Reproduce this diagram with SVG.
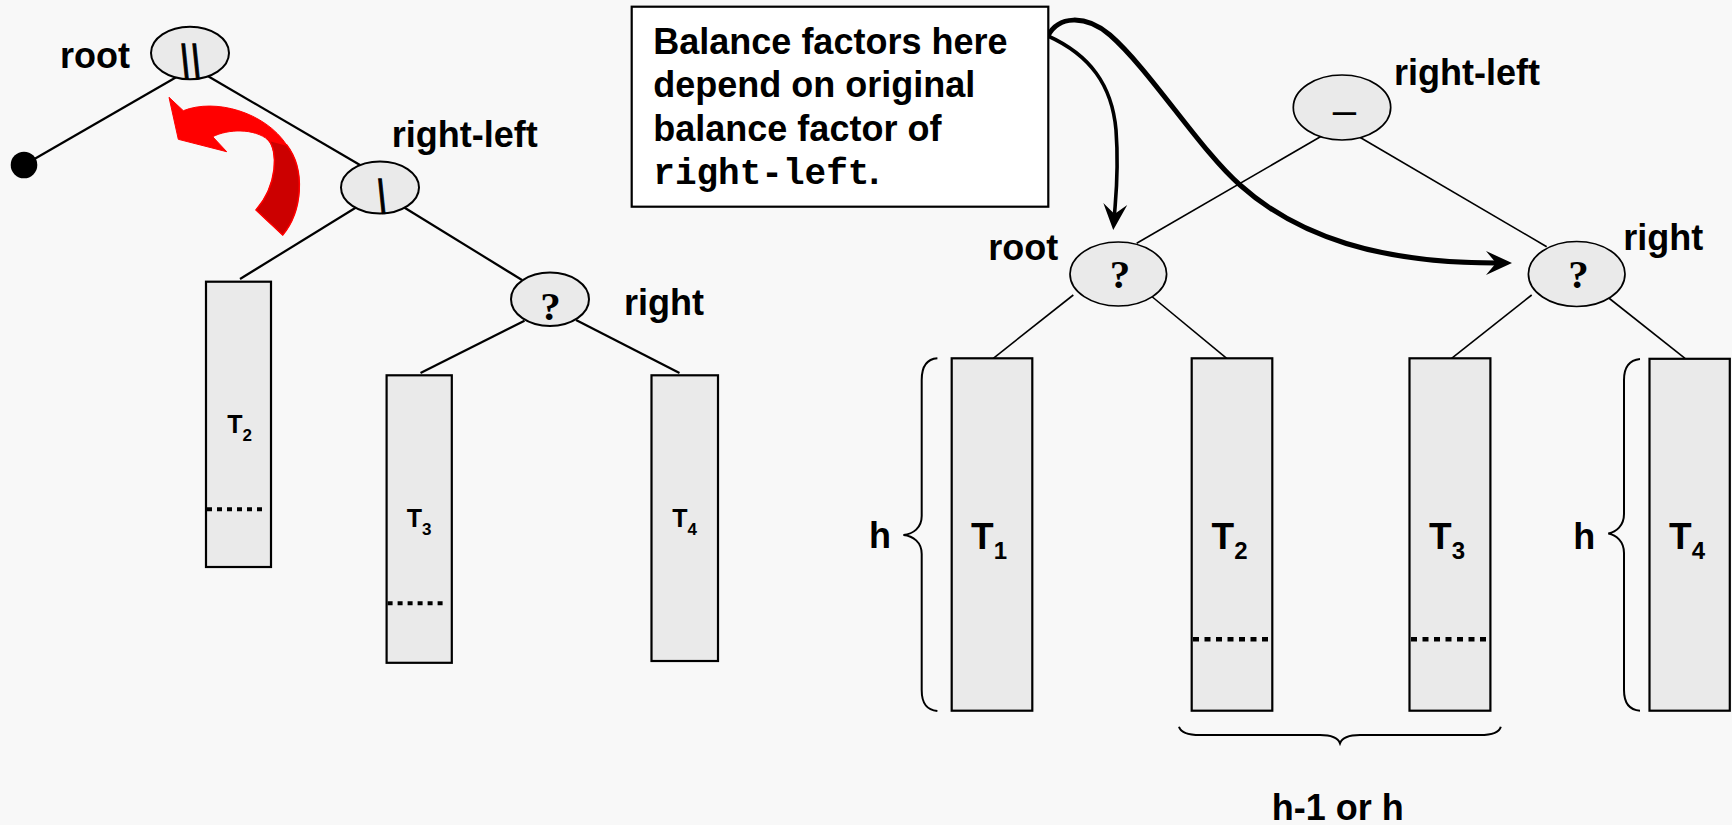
<svg xmlns="http://www.w3.org/2000/svg" width="1732" height="825" viewBox="0 0 1732 825">
<style>
.lbl{font-family:"Liberation Sans",Arial,sans-serif;font-weight:bold;font-size:36px;fill:#000}
.tl{font-family:"Liberation Sans",Arial,sans-serif;font-weight:bold;font-size:37px;fill:#000}
.ts{font-family:"Liberation Sans",Arial,sans-serif;font-weight:bold;font-size:25px;fill:#000}
.q{font-family:"Liberation Serif","Times New Roman",serif;font-weight:bold;font-size:41px;fill:#000}
.bs{font-family:"Liberation Sans",Arial,sans-serif;font-weight:bold;font-size:46px;fill:#000;stroke:#000;stroke-width:1.4;letter-spacing:7.2px}
.mono{font-family:"Liberation Mono","Courier New",monospace;font-weight:bold;font-size:36px}
.nodeL{fill:#eaeaea;stroke:#000;stroke-width:2}
.nodeR{fill:#eaeaea;stroke:#000;stroke-width:1.7}
.box{fill:#eaeaea;stroke:#000;stroke-width:2.2}
.edgeL{stroke:#000;stroke-width:2.2;fill:none}
.edgeR{stroke:#000;stroke-width:1.6;fill:none}
.dotL{stroke:#000;stroke-width:4;stroke-dasharray:5 5;fill:none}
.dotR{stroke:#000;stroke-width:4.5;stroke-dasharray:6 5.5;fill:none}
.brace{stroke:#000;stroke-width:2;fill:none}
</style>
<defs>
<marker id="headA" markerUnits="userSpaceOnUse" viewBox="0 0 26 26" refX="10" refY="13" markerWidth="26" markerHeight="26" orient="auto">
<path d="M0,1 L26,13 L0,25 L10,13 Z" fill="#000"/>
</marker>
</defs>
<rect x="0" y="0" width="1732" height="825" fill="#f8f8f8"/>

<g id="connectors">
<line class="edgeL" x1="178.3" y1="76" x2="24" y2="165"/>
<line class="edgeL" x1="206" y1="75" x2="360" y2="165"/>
<line class="edgeL" x1="361.7" y1="204" x2="240" y2="279"/>
<line class="edgeL" x1="403" y1="206.7" x2="522" y2="280"/>
<line class="edgeL" x1="524.5" y1="320.7" x2="420.5" y2="373"/>
<line class="edgeL" x1="576" y1="320" x2="679.5" y2="373"/>
<line class="edgeR" x1="1321.7" y1="136" x2="1136.7" y2="243.3"/>
<line class="edgeR" x1="1356" y1="135" x2="1546.7" y2="246.7"/>
<line class="edgeR" x1="1073.3" y1="295" x2="993.3" y2="358.3"/>
<line class="edgeR" x1="1150" y1="295" x2="1226.7" y2="358.3"/>
<line class="edgeR" x1="1531.7" y1="295" x2="1451.6" y2="358.3"/>
<line class="edgeR" x1="1605" y1="295" x2="1685" y2="358.3"/>
<path d="M1048,36 C1090,55 1112,85 1116,130 C1119,170 1116,195 1114.5,214" stroke="#000" stroke-width="3.6" fill="none" marker-end="url(#headA)"/>
<path d="M1048,36 C1058,16 1085,14 1110,35 C1150,70 1200,150 1240,185 C1298,237 1380,263 1496,263" stroke="#000" stroke-width="5" fill="none" marker-end="url(#headA)"/>
</g>

<g id="rotation-arrow">
<path d="M169,97.3 L178.3,139.3 L226.7,151.7 L212.7,136.7 C228,129 254,128 268.3,140 C278,150 278,185 256,210 L282.7,235 C302,212 306,170 286.7,145 C265,112 215,98 183.3,110.7 Z" fill="#ff0000" stroke="#ff0000" stroke-width="1"/>
<path d="M268.3,140 C278,150 278,185 256,210 L282.7,235 C302,212 306,170 286.7,145 Z" fill="#cc0000" stroke="#ff0000" stroke-width="1.5"/>
</g>

<g id="leaf-dot"><circle cx="24" cy="165" r="13.3" fill="#000"/></g>

<g id="L-root">
<ellipse class="nodeL" cx="190" cy="53" rx="39" ry="26.3"/>
<text class="bs" transform="translate(181.5,78) scale(0.55,1)">\\</text>
<text class="lbl" x="60" y="68">root</text>
</g>
<g id="L-right-left">
<ellipse class="nodeL" cx="380" cy="187.5" rx="39" ry="26"/>
<text class="bs" transform="translate(378.3,213) scale(0.55,1)">\</text>
<text class="lbl" x="391.7" y="147">right-left</text>
</g>
<g id="L-right">
<ellipse class="nodeL" cx="550" cy="299.3" rx="39" ry="26.7"/>
<text class="q" x="550.5" y="320" text-anchor="middle">?</text>
<text class="lbl" x="624" y="315">right</text>
</g>
<g id="L-T2">
<rect class="box" x="206" y="281.7" width="65" height="285.3"/>
<line class="dotL" x1="207" y1="509.3" x2="266" y2="509.3"/>
<text class="ts" x="239.5" y="433.3" text-anchor="middle">T<tspan font-size="17" dy="8">2</tspan></text>
</g>
<g id="L-T3">
<rect class="box" x="386.6" y="375.3" width="65.2" height="287.5"/>
<line class="dotL" x1="387.6" y1="603.3" x2="447" y2="603.3"/>
<text class="ts" x="419" y="526.7" text-anchor="middle">T<tspan font-size="17" dy="8">3</tspan></text>
</g>
<g id="L-T4">
<rect class="box" x="651.5" y="375.3" width="66.5" height="285.7"/>
<text class="ts" x="684.5" y="526.7" text-anchor="middle">T<tspan font-size="17" dy="8">4</tspan></text>
</g>

<g id="note">
<rect x="631.7" y="6.7" width="416.6" height="200" fill="#ffffff" stroke="#000" stroke-width="2.2"/>
<text class="lbl" x="653.3" y="53.5">Balance factors here</text>
<text class="lbl" x="653.3" y="97">depend on original</text>
<text class="lbl" x="653.3" y="140.5">balance factor of</text>
<text x="653.3" y="183.5"><tspan class="mono">right-left</tspan><tspan class="lbl">.</tspan></text>
</g>

<g id="R-right-left">
<ellipse class="nodeR" cx="1342" cy="107.5" rx="48.7" ry="32.5"/>
<text x="1344.5" y="124" text-anchor="middle" font-family="Liberation Sans, Arial, sans-serif" font-size="42">–</text>
<text class="lbl" x="1394" y="85">right-left</text>
</g>
<g id="R-root">
<ellipse class="nodeR" cx="1118.3" cy="274" rx="48.3" ry="32"/>
<text class="q" x="1120" y="287.5" text-anchor="middle">?</text>
<text class="lbl" x="988.3" y="260">root</text>
</g>
<g id="R-right">
<ellipse class="nodeR" cx="1576.7" cy="274" rx="48.3" ry="32.5"/>
<text class="q" x="1578.5" y="288" text-anchor="middle">?</text>
<text class="lbl" x="1623.3" y="250">right</text>
</g>
<g id="R-T1">
<rect class="box" x="951.7" y="358.3" width="80.6" height="352.4"/>
<text class="tl" x="989" y="548.5" text-anchor="middle">T<tspan font-size="24" dy="10">1</tspan></text>
</g>
<g id="R-T2">
<rect class="box" x="1191.7" y="358.3" width="80.6" height="352.4"/>
<line class="dotR" x1="1193" y1="639.3" x2="1271" y2="639.3"/>
<text class="tl" x="1229.5" y="548.5" text-anchor="middle">T<tspan font-size="24" dy="10">2</tspan></text>
</g>
<g id="R-T3">
<rect class="box" x="1409.5" y="358.3" width="80.9" height="352.4"/>
<line class="dotR" x1="1411" y1="639.3" x2="1489" y2="639.3"/>
<text class="tl" x="1447" y="548.5" text-anchor="middle">T<tspan font-size="24" dy="10">3</tspan></text>
</g>
<g id="R-T4">
<rect class="box" x="1649.5" y="358.8" width="80.3" height="351.9"/>
<text class="tl" x="1687" y="549" text-anchor="middle">T<tspan font-size="24" dy="10">4</tspan></text>
</g>

<g id="braces">
<path class="brace" d="M937.4,358.3 C927,359 921.7,366 921.7,380 L921.7,516 C921.7,528 913,534 903.4,535 C913,536 921.7,542 921.7,554 L921.7,690 C921.7,704 927,710 937.4,711"/>
<text class="lbl" x="869" y="548.3">h</text>
<path class="brace" d="M1640,359 C1630,360 1624,367 1624,380 L1624,514 C1624,526 1616,532 1608.3,533.5 C1616,535 1624,541 1624,553 L1624,690 C1624,703 1630,710 1640,710.7"/>
<text class="lbl" x="1573.3" y="549.3">h</text>
<path class="brace" d="M1179,726.7 C1181,733.5 1190,735 1200,735 L1320,735 C1332,735 1338,738 1340,743.3 C1342,738 1348,735 1360,735 L1480,735 C1490,735 1499,733.5 1500.8,726.7"/>
<text class="lbl" x="1271.8" y="820">h-1 or h</text>
</g>
</svg>
